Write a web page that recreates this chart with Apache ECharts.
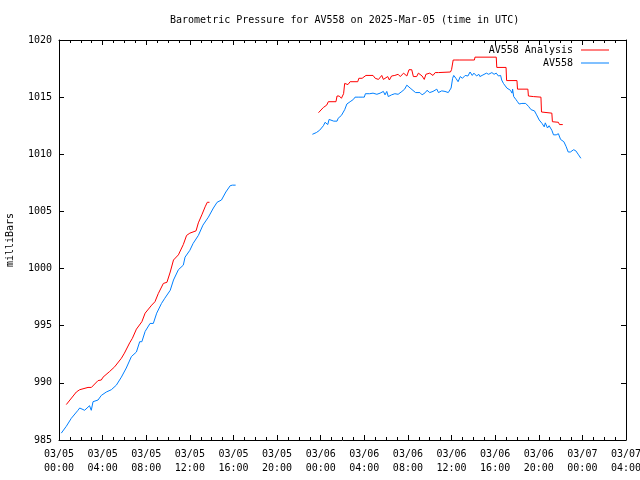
<!DOCTYPE html>
<html>
<head>
<meta charset="utf-8">
<script src="https://cdn.jsdelivr.net/npm/echarts@6/dist/echarts.min.js"></script>
<style>html,body{margin:0;padding:0;background:#fff}#c{width:640px;height:480px}</style>
</head>
<body>
<div id="c"></div>
<script>
// Hours since 03/05 00:00 UTC; null breaks the line
const analysisHours = [0.67,1.59,1.9,2.66,2.97,3.58,3.88,4.04,4.65,5.1,5.72,6.0,6.48,6.73,7.1,7.6,7.9,8.5,8.8,9.1,9.57,9.9,10.2,10.5,10.95,11.4,11.7,12.0,12.57,12.78,13.1,13.4,13.6,13.8,
  18.0,
  23.8,23.95,24.25,24.55,24.7,25.4,25.5,25.7,25.9,26.1,26.2,26.5,26.7,27.4,27.5,27.8,27.9,28.15,28.8,29.0,29.3,29.6,29.75,30.15,30.3,30.5,30.8,31.1,31.3,31.6,31.9,32.1,32.35,32.5,32.8,32.96,33.3,33.5,33.65,34.0,34.3,34.5,34.8,35.9,36.0,36.15,36.4,36.55,36.7,38.1,38.15,40.1,40.15,41.0,41.05,42.0,42.05,43.0,43.05,43.5,44.2,44.25,45.2,45.25,45.8,45.9,46.2];
const analysisValues = [988.1,989.2,989.4,989.6,989.6,990.2,990.25,990.5,991.0,991.4,992.15,992.6,993.5,993.9,994.7,995.35,996.1,996.8,997.1,997.8,998.7,998.8,999.7,1000.75,1001.2,1002.1,1002.9,1003.1,1003.3,1004.0,1004.7,1005.4,1005.8,1005.8,
  null,
  1013.64,1013.8,1014.1,1014.3,1014.6,1014.6,1015.1,1015.1,1014.9,1015.3,1016.2,1016.1,1016.35,1016.35,1016.65,1016.65,1016.5,1016.9,1016.9,1016.65,1016.55,1016.9,1016.55,1016.8,1016.5,1016.85,1016.9,1017.0,1016.8,1017.1,1016.85,1017.4,1017.4,1016.8,1016.8,1017.1,1016.85,1016.55,1017.0,1017.1,1016.9,1017.15,1017.15,1017.2,1017.4,1018.25,1018.25,1018.1,1018.25,1018.25,1018.5,1018.5,1017.6,1017.6,1016.45,1016.45,1015.7,1015.7,1015.1,1015.05,1015.0,1013.7,1013.6,1012.85,1012.8,1012.6,1012.6];

const av558Hours = [0.21,0.37,0.67,1.13,1.74,1.9,2.35,2.8,2.96,3.12,3.58,3.88,4.34,4.8,5.26,5.72,6.17,6.64,7.1,7.4,7.6,7.9,8.35,8.65,8.96,9.4,9.7,10.2,10.5,10.95,11.4,11.56,12.0,12.3,12.78,13.2,13.7,14.16,14.5,14.9,15.3,15.7,15.9,16.2,
  20.0,
  23.24,23.6,23.9,24.25,24.4,24.65,24.77,25.2,25.5,25.6,25.9,26.2,26.4,26.7,27.0,27.15,27.5,27.8,28.0,28.1,28.5,28.8,29.15,29.45,29.75,29.9,30.06,30.2,30.5,30.8,31.1,31.45,31.7,31.9,32.05,32.2,32.35,32.7,32.8,33.1,33.3,33.6,33.75,34.0,34.3,34.65,34.8,35.1,35.4,35.7,35.96,36.1,36.2,36.4,36.6,36.8,37.0,37.25,37.5,37.7,37.9,38.05,38.3,38.5,38.6,38.8,38.9,39.2,39.4,39.5,39.7,39.9,40.1,40.3,40.5,40.6,40.76,40.9,41.07,41.2,41.4,41.55,41.6,41.7,41.9,42.05,42.2,42.45,42.6,42.8,43.05,43.3,43.6,43.8,44.04,44.3,44.5,44.6,44.8,44.95,45.2,45.35,45.6,45.8,46.0,46.3,46.5,46.7,46.9,47.2,47.4,47.65,47.86];
const av558Values = [985.6,985.6,986.2,986.9,987.6,987.8,987.6,988.0,987.6,988.35,988.5,988.9,989.2,989.4,989.8,990.5,991.3,992.3,992.7,993.6,993.6,994.5,995.2,995.2,996.1,996.95,997.4,998.1,999.0,999.9,1000.3,1001.0,1001.6,1002.2,1002.9,1003.8,1004.5,1005.3,1005.8,1006.0,1006.7,1007.25,1007.3,1007.3,
  null,
  1011.75,1011.9,1012.1,1012.5,1012.8,1012.6,1013.05,1012.9,1012.9,1013.15,1013.4,1013.9,1014.4,1014.6,1014.8,1015.0,1015.0,1015.0,1015.0,1015.3,1015.3,1015.35,1015.25,1015.35,1015.5,1015.2,1015.5,1015.05,1015.2,1015.3,1015.25,1015.5,1015.7,1016.05,1016.1,1015.8,1015.8,1015.4,1015.3,1015.4,1015.2,1015.4,1015.6,1015.4,1015.5,1015.7,1015.4,1015.55,1015.5,1015.4,1015.8,1016.65,1016.9,1016.65,1016.35,1016.8,1016.65,1016.9,1016.85,1017.2,1016.9,1017.1,1016.85,1017.0,1016.8,1016.9,1016.85,1017.1,1017.0,1016.9,1017.15,1017.0,1017.1,1016.85,1016.9,1016.5,1016.2,1016.05,1015.8,1015.9,1015.6,1015.35,1015.7,1015.05,1014.8,1014.6,1014.4,1014.45,1014.5,1014.45,1014.2,1013.9,1013.8,1013.45,1013.0,1012.7,1012.4,1012.75,1012.3,1012.5,1012.1,1011.7,1011.7,1011.8,1011.3,1011.1,1010.7,1010.2,1010.2,1010.4,1010.3,1009.95,1009.65];

const xTickLabels = ['03/05\n00:00','03/05\n04:00','03/05\n08:00','03/05\n12:00','03/05\n16:00','03/05\n20:00','03/06\n00:00','03/06\n04:00','03/06\n08:00','03/06\n12:00','03/06\n16:00','03/06\n20:00','03/07\n00:00','03/07\n04:00'];
const seriesNames = ['AV558 Analysis','AV558'];
const titleText = 'Barometric Pressure for AV558 on 2025-Mar-05 (time in UTC)';
const yAxisName = 'milliBars';

function pairs(hs, vs){ return hs.map((h,i)=>[h, vs[i]]); }

const FONT = 'DejaVu Sans Mono';
const chart = echarts.init(document.getElementById('c'), null, {renderer:'canvas'});
const axisCommon = {
  axisLine:{show:true, onZero:false, lineStyle:{color:'#000', width:1}},
  axisTick:{show:true, inside:true, length:5, lineStyle:{color:'#000'}},
  splitLine:{show:false}
};
chart.setOption({
  animation:false,
  backgroundColor:'#fff',
  title:{text:titleText, left:165, top:10, textStyle:{fontFamily:FONT, fontSize:10, fontWeight:'normal', color:'#000'}},
  grid:{left:59, right:14, top:40, bottom:40, containLabel:false, outerBoundsMode:'none'},
  legend:[
    {data:[seriesNames[0]], right:26, top:40, align:'right', orient:'vertical', icon:'rect', itemWidth:28, itemHeight:1,
     textStyle:{fontFamily:FONT, fontSize:10, color:'#000', padding:[0,3,0,0]}},
    {data:[seriesNames[1]], right:26, top:53, align:'right', orient:'vertical', icon:'rect', itemWidth:28, itemHeight:1,
     textStyle:{fontFamily:FONT, fontSize:10, color:'#000', padding:[0,3,0,0]}}
  ],
  xAxis:[
    Object.assign({}, axisCommon, {type:'value', min:0, max:52, interval:4, position:'bottom',
      minorTick:{show:true, splitNumber:4, length:3, lineStyle:{color:'#000'}},
      axisLabel:{fontFamily:FONT, fontSize:10, color:'#000', lineHeight:14, margin:7,
        formatter:(v)=>xTickLabels[Math.round(v/4)] || ''}}),
    Object.assign({}, axisCommon, {type:'value', min:0, max:52, interval:4, position:'top',
      minorTick:{show:true, splitNumber:4, length:3, lineStyle:{color:'#000'}},
      axisLabel:{show:false}})
  ],
  yAxis:[
    Object.assign({}, axisCommon, {type:'value', min:985, max:1020, interval:5, position:'left',
      name:yAxisName, nameLocation:'middle', nameGap:44,
      nameTextStyle:{fontFamily:FONT, fontSize:10, color:'#000'},
      axisLabel:{fontFamily:FONT, fontSize:10, color:'#000', margin:7, formatter:(v)=>String(v)}}),
    Object.assign({}, axisCommon, {type:'value', min:985, max:1020, interval:5, position:'right',
      axisLabel:{show:false}})
  ],
  series:[
    {name:seriesNames[0], type:'line', data:pairs(analysisHours, analysisValues), showSymbol:false, symbol:'none',
     connectNulls:false, color:'#ff0000', lineStyle:{width:1, color:'#ff0000'}, itemStyle:{color:'#ff0000'}},
    {name:seriesNames[1], type:'line', data:pairs(av558Hours, av558Values), showSymbol:false, symbol:'none',
     connectNulls:false, color:'#0080ff', lineStyle:{width:1, color:'#0080ff'}, itemStyle:{color:'#0080ff'}}
  ]
});
</script>
</body>
</html>
